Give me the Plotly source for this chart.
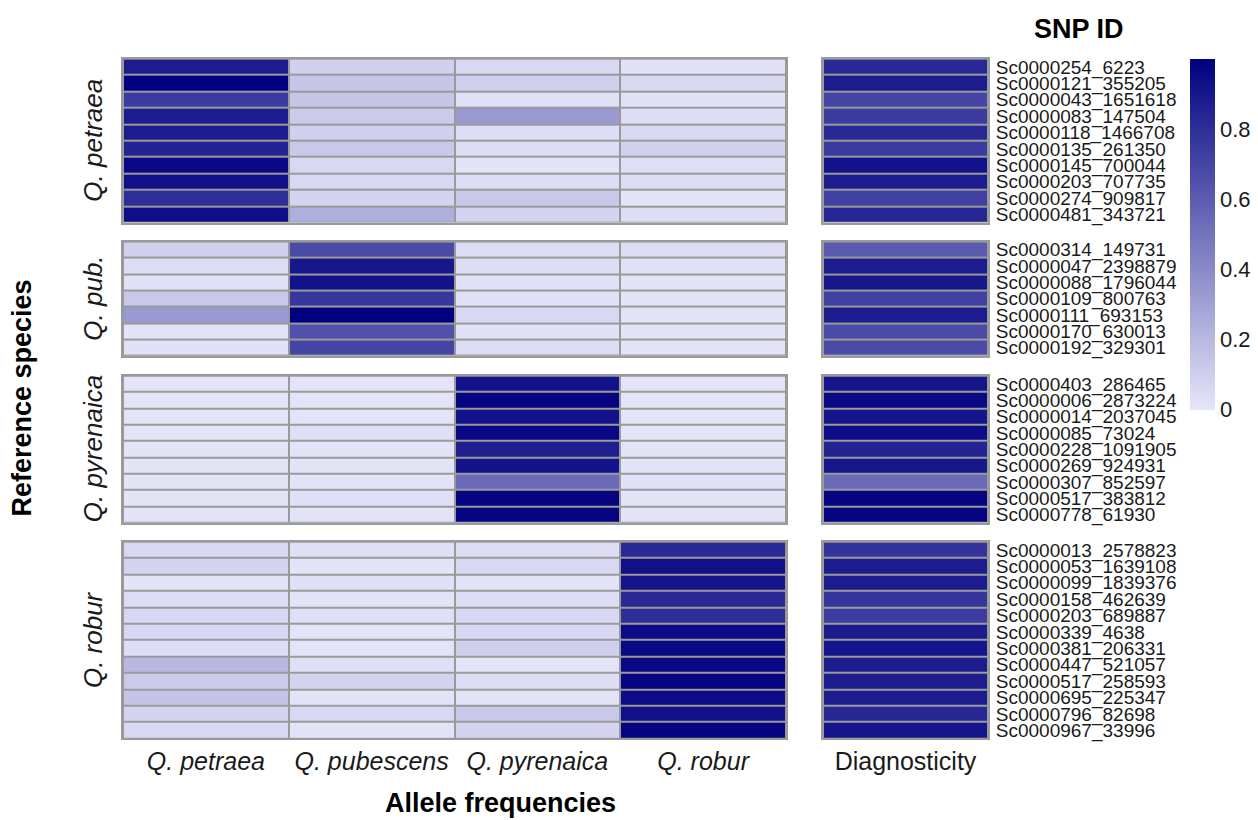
import plotly.graph_objects as go

# ---------------- data ----------------
species = ["Q. petraea", "Q. pubescens", "Q. pyrenaica", "Q. robur"]
panel_names = ["Q. petraea", "Q. pub.", "Q. pyrenaica", "Q. robur"]

petraea_ids = ["Sc0000254_6223", "Sc0000121_355205", "Sc0000043_1651618", "Sc0000083_147504",
               "Sc0000118_1466708", "Sc0000135_261350", "Sc0000145_700044", "Sc0000203_707735",
               "Sc0000274_909817", "Sc0000481_343721"]
petraea_f_pet = [0.88, 1.00, 0.75, 0.88, 0.88, 0.85, 0.96, 0.93, 0.80, 0.94]
petraea_f_pub = [0.10, 0.14, 0.14, 0.12, 0.10, 0.13, 0.06, 0.06, 0.08, 0.24]
petraea_f_pyr = [0.06, 0.10, 0.02, 0.33, 0.04, 0.04, 0.01, 0.04, 0.13, 0.08]
petraea_f_rob = [0.02, 0.06, 0.02, 0.04, 0.06, 0.09, 0.03, 0.04, 0.01, 0.04]
petraea_diag = [0.82, 0.88, 0.70, 0.75, 0.82, 0.75, 0.92, 0.88, 0.72, 0.83]

pub_ids = ["Sc0000314_149731", "Sc0000047_2398879", "Sc0000088_1796044", "Sc0000109_800763",
           "Sc0000111_693153", "Sc0000170_630013", "Sc0000192_329301"]
pub_f_pet = [0.10, 0.04, 0.02, 0.13, 0.33, 0.01, 0.02]
pub_f_pub = [0.68, 0.90, 0.92, 0.76, 1.00, 0.65, 0.70]
pub_f_pyr = [0.04, 0.04, 0.02, 0.02, 0.06, 0.02, 0.04]
pub_f_rob = [0.04, 0.02, 0.01, 0.01, 0.01, 0.01, 0.01]
pub_diag = [0.61, 0.88, 0.90, 0.72, 0.88, 0.68, 0.68]

pyr_ids = ["Sc0000403_286465", "Sc0000006_2873224", "Sc0000014_2037045", "Sc0000085_73024",
           "Sc0000228_1091905", "Sc0000269_924931", "Sc0000307_852597", "Sc0000517_383812",
           "Sc0000778_61930"]
pyr_f_pet = [0.01, 0.01, 0.01, 0.01, 0.01, 0.01, 0.01, 0.01, 0.01]
pyr_f_pub = [0.01, 0.01, 0.01, 0.03, 0.01, 0.01, 0.01, 0.03, 0.01]
pyr_f_pyr = [0.92, 0.98, 0.92, 0.965, 0.87, 0.92, 0.54, 0.98, 0.98]
pyr_f_rob = [0.01, 0.01, 0.01, 0.01, 0.01, 0.01, 0.02, 0.01, 0.01]
pyr_diag = [0.91, 0.96, 0.91, 0.95, 0.85, 0.90, 0.54, 0.98, 0.98]

rob_ids = ["Sc0000013_2578823", "Sc0000053_1639108", "Sc0000099_1839376", "Sc0000158_462639",
           "Sc0000203_689887", "Sc0000339_4638", "Sc0000381_206331", "Sc0000447_521057",
           "Sc0000517_258593", "Sc0000695_225347", "Sc0000796_82698", "Sc0000967_33996"]
rob_f_pet = [0.06, 0.08, 0.01, 0.04, 0.06, 0.06, 0.04, 0.20, 0.12, 0.15, 0.08, 0.06]
rob_f_pub = [0.03, 0.01, 0.03, 0.01, 0.03, 0.01, 0.01, 0.03, 0.08, 0.01, 0.06, 0.01]
rob_f_pyr = [0.04, 0.06, 0.01, 0.04, 0.06, 0.06, 0.10, 0.01, 0.04, 0.01, 0.13, 0.08]
rob_f_rob = [0.82, 0.93, 0.91, 0.82, 0.80, 0.95, 0.96, 0.96, 0.98, 0.95, 0.93, 0.98]
rob_diag = [0.78, 0.88, 0.88, 0.77, 0.74, 0.88, 0.91, 0.88, 0.88, 0.88, 0.83, 0.91]

colorbar_ticks = [0, 0.2, 0.4, 0.6, 0.8]
colorbar_ticktext = ["0", "0.2", "0.4", "0.6", "0.8"]
diag_label = "Diagnosticity"

panels = [
    (petraea_ids, [petraea_f_pet, petraea_f_pub, petraea_f_pyr, petraea_f_rob], petraea_diag),
    (pub_ids, [pub_f_pet, pub_f_pub, pub_f_pyr, pub_f_rob], pub_diag),
    (pyr_ids, [pyr_f_pet, pyr_f_pub, pyr_f_pyr, pyr_f_rob], pyr_diag),
    (rob_ids, [rob_f_pet, rob_f_pub, rob_f_pyr, rob_f_rob], rob_diag),
]

colorscale = [[0.0, "#E6E6FA"], [1.0, "#000080"]]

# ---------------- layout geometry ----------------
W, H = 1258, 820
FONT = "Liberation Sans, Arial, sans-serif"
GRID = "#9a9a9a"
TXT = "#1a1a1a"
xL = (123, 786)
xD = (823, 988)
rows_px = [(57, 222), (241, 356), (376, 524), (543, 741)]

def xdom(a):
    return [a[0] / W, a[1] / W]

def ydom(a):
    return [1 - a[1] / H, 1 - a[0] / H]

fig = go.Figure()
layout = {}
ax_i = 0
for r, (ids, freqs, diag) in enumerate(panels):
    n = len(ids)
    ys = list(range(n))
    for c in range(2):
        ax_i += 1
        sfx = "" if ax_i == 1 else str(ax_i)
        if c == 0:
            z = [[freqs[j][i] for j in range(4)] for i in range(n)]
            xs = list(range(4))
        else:
            z = [[diag[i]] for i in range(n)]
            xs = [0]
        fig.add_trace(go.Heatmap(
            z=z, x=xs, y=ys, zmin=0, zmax=1, colorscale=colorscale,
            xgap=2, ygap=2, showscale=(ax_i == 1),
            xaxis="x" + sfx, yaxis="y" + sfx,
            colorbar=dict(
                x=1190 / W, xanchor="left", xref="paper",
                y=1 - 57 / H, yanchor="top", yref="paper",
                len=353 / H, lenmode="fraction", thickness=25, thicknessmode="pixels",
                outlinewidth=0, ticks="", tickvals=colorbar_ticks,
                ticktext=colorbar_ticktext,
                tickfont=dict(family=FONT, size=22, color=TXT),
                ticklabelposition="outside", xpad=0, ypad=0,
            ),
            hovertemplate="%{z:.2f}<extra></extra>",
        ))
        xa = dict(
            domain=xdom(xL if c == 0 else xD),
            anchor="y" + sfx,
            range=[-0.5, 3.5] if c == 0 else [-0.5, 0.5],
            showgrid=False, zeroline=False, ticks="",
            showline=True, mirror=True, linecolor=GRID, linewidth=2,
            fixedrange=True,
        )
        if r == 3:
            if c == 0:
                xa.update(tickvals=xs, ticktext=[f"<i>{s}</i>" for s in species])
            else:
                xa.update(tickvals=[0], ticktext=[diag_label])
            xa.update(showticklabels=True, tickfont=dict(family=FONT, size=25, color=TXT),
                      ticklabelstandoff=0)
        else:
            xa.update(showticklabels=False)
        ya = dict(
            domain=ydom(rows_px[r]), anchor="x" + sfx,
            range=[n - 0.5, -0.5], showgrid=False, zeroline=False, ticks="",
            showline=True, mirror=True, linecolor=GRID, linewidth=2,
            fixedrange=True,
        )
        if c == 1:
            ya.update(side="right", tickvals=ys, ticktext=ids, showticklabels=True,
                      tickfont=dict(family=FONT, size=19, color=TXT),
                      ticklabelstandoff=2)
        else:
            ya.update(showticklabels=False)
        layout["xaxis" + sfx] = xa
        layout["yaxis" + sfx] = ya

annotations = []
for r, name in enumerate(panel_names):
    yc = 1 - (rows_px[r][0] + rows_px[r][1]) / 2 / H
    annotations.append(dict(text=f"<i>{name}</i>", x=93 / W, y=yc, xref="paper", yref="paper",
                            textangle=-90, showarrow=False, xanchor="center", yanchor="middle",
                            font=dict(family=FONT, size=26, color=TXT)))
annotations.append(dict(text="<b>Reference species</b>", x=22 / W, y=1 - 399 / H,
                        xref="paper", yref="paper", textangle=-90, showarrow=False,
                        xanchor="center", yanchor="middle",
                        font=dict(family=FONT, size=27, color="black")))
annotations.append(dict(text="<b>Allele frequencies</b>", x=500 / W, y=1 - 806 / H,
                        xref="paper", yref="paper", showarrow=False,
                        xanchor="center", yanchor="middle",
                        font=dict(family=FONT, size=27, color="black")))
annotations.append(dict(text="<b>SNP ID</b>", x=1079 / W, y=1 - 27 / H,
                        xref="paper", yref="paper", showarrow=False,
                        xanchor="center", yanchor="middle",
                        font=dict(family=FONT, size=27, color="black")))

fig.update_layout(
    width=W, height=H, margin=dict(l=0, r=0, t=0, b=0),
    paper_bgcolor="white", plot_bgcolor=GRID,
    annotations=annotations, showlegend=False,
    font=dict(family=FONT),
    **layout,
)

fig.write_html(
    "out.html",
    config={"displayModeBar": False},
    post_script="document.body.style.margin='0';document.body.style.overflow='hidden';",
)
